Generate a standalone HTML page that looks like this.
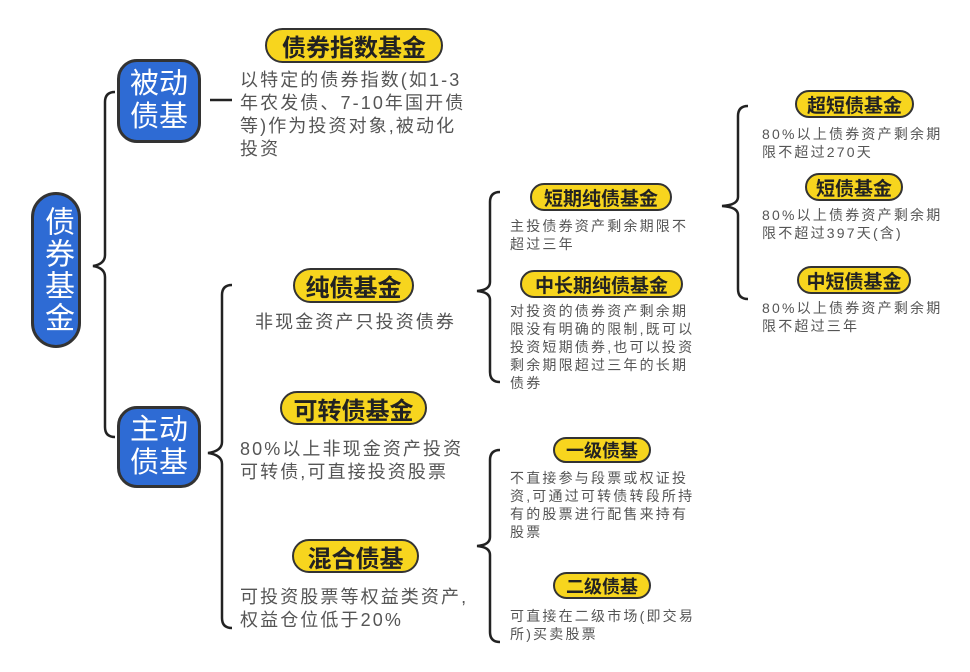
<!DOCTYPE html>
<html><head><meta charset="utf-8"><style>
body{margin:0;width:970px;height:672px;background:#fff;position:relative;overflow:hidden;font-family:"Liberation Sans","Noto Sans CJK SC",sans-serif}
.p{position:absolute;background:#f7d51e;border:2px solid #333;border-radius:20px;box-sizing:border-box;display:flex;align-items:center;justify-content:center;font-weight:bold;color:#222;white-space:nowrap}
.b{position:absolute;background:#2e6bd4;border:3px solid #333;box-sizing:border-box;color:#fff;display:flex;align-items:center;justify-content:center;text-align:center}
.t{position:absolute;color:#555;white-space:nowrap}
.t1{font-size:18px;line-height:23px;letter-spacing:2.1px}
.t2{font-size:14px;line-height:18px;letter-spacing:2.2px}
svg{position:absolute;left:0;top:0}
</style></head><body>
<svg width="970" height="672" fill="none" stroke="#222" stroke-width="2.5">
<path d="M115 92 Q105 92 105 102 L105 255 Q105 264 93 266 Q105 268 105 277 L105 427 Q105 437 115 437"/>
<path d="M210 100 L232 100" stroke-width="2.5"/>
<path d="M232 285 Q222 285 222 295 L222 442 Q222 451 208 453 Q222 455 222 464 L222 618 Q222 628 232 628"/>
<path d="M500 192 Q490 192 490 202 L490 282 Q490 290 477 291 Q490 292 490 300 L490 372 Q490 382 500 382"/>
<path d="M748 106 Q738 106 738 116 L738 197 Q738 205 722 206 Q738 207 738 215 L738 289 Q738 299 748 299"/>
<path d="M500 450 Q490 450 490 460 L490 537 Q490 545 477 546 Q490 547 490 555 L490 632 Q490 642 500 642"/>
</svg>
<div class="b" style="left:31px;top:192px;width:50px;height:156px;border-radius:25px;font-size:30px;line-height:34px;writing-mode:vertical-rl;letter-spacing:2px">债券基金</div>
<div class="b" style="left:117px;top:59px;width:84px;height:84px;border-radius:20px;font-size:29px;line-height:33px">被动<br>债基</div>
<div class="b" style="left:117px;top:406px;width:84px;height:82px;border-radius:20px;font-size:29px;line-height:33px">主动<br>债基</div>

<div class="p" style="left:265px;top:28px;width:178px;height:35px;font-size:24px">债券指数基金</div>
<div class="t t1" style="left:240px;top:69px">以特定的债券指数(如1-3<br>年农发债、7-10年国开债<br>等)作为投资对象,被动化<br>投资</div>

<div class="p" style="left:293px;top:268px;width:121px;height:35px;font-size:24px">纯债基金</div>
<div class="t t1" style="left:255px;top:311px">非现金资产只投资债券</div>

<div class="p" style="left:280px;top:391px;width:147px;height:34px;font-size:24px">可转债基金</div>
<div class="t t1" style="left:240px;top:438px">80%以上非现金资产投资<br>可转债,可直接投资股票</div>

<div class="p" style="left:292px;top:539px;width:127px;height:34px;font-size:24px">混合债基</div>
<div class="t t1" style="left:240px;top:586px">可投资股票等权益类资产,<br>权益仓位低于20%</div>

<div class="p" style="left:530px;top:183px;width:142px;height:28px;font-size:19px">短期纯债基金</div>
<div class="t t2" style="left:510px;top:217px">主投债券资产剩余期限不<br>超过三年</div>
<div class="p" style="left:520px;top:270px;width:163px;height:28px;font-size:19px">中长期纯债基金</div>
<div class="t t2" style="left:510px;top:302px">对投资的债券资产剩余期<br>限没有明确的限制,既可以<br>投资短期债券,也可以投资<br>剩余期限超过三年的长期<br>债券</div>

<div class="p" style="left:795px;top:90px;width:119px;height:28px;font-size:19px">超短债基金</div>
<div class="t t2" style="left:762px;top:125px">80%以上债券资产剩余期<br>限不超过270天</div>
<div class="p" style="left:805px;top:173px;width:98px;height:28px;font-size:19px">短债基金</div>
<div class="t t2" style="left:762px;top:206px">80%以上债券资产剩余期<br>限不超过397天(含)</div>
<div class="p" style="left:797px;top:266px;width:114px;height:28px;font-size:19px">中短债基金</div>
<div class="t t2" style="left:762px;top:299px">80%以上债券资产剩余期<br>限不超过三年</div>

<div class="p" style="left:553px;top:437px;width:98px;height:26px;font-size:18px">一级债基</div>
<div class="t t2" style="left:510px;top:469px">不直接参与段票或权证投<br>资,可通过可转债转段所持<br>有的股票进行配售来持有<br>股票</div>
<div class="p" style="left:553px;top:572px;width:98px;height:27px;font-size:18px">二级债基</div>
<div class="t t2" style="left:510px;top:607px">可直接在二级市场(即交易<br>所)买卖股票</div>
</body></html>
